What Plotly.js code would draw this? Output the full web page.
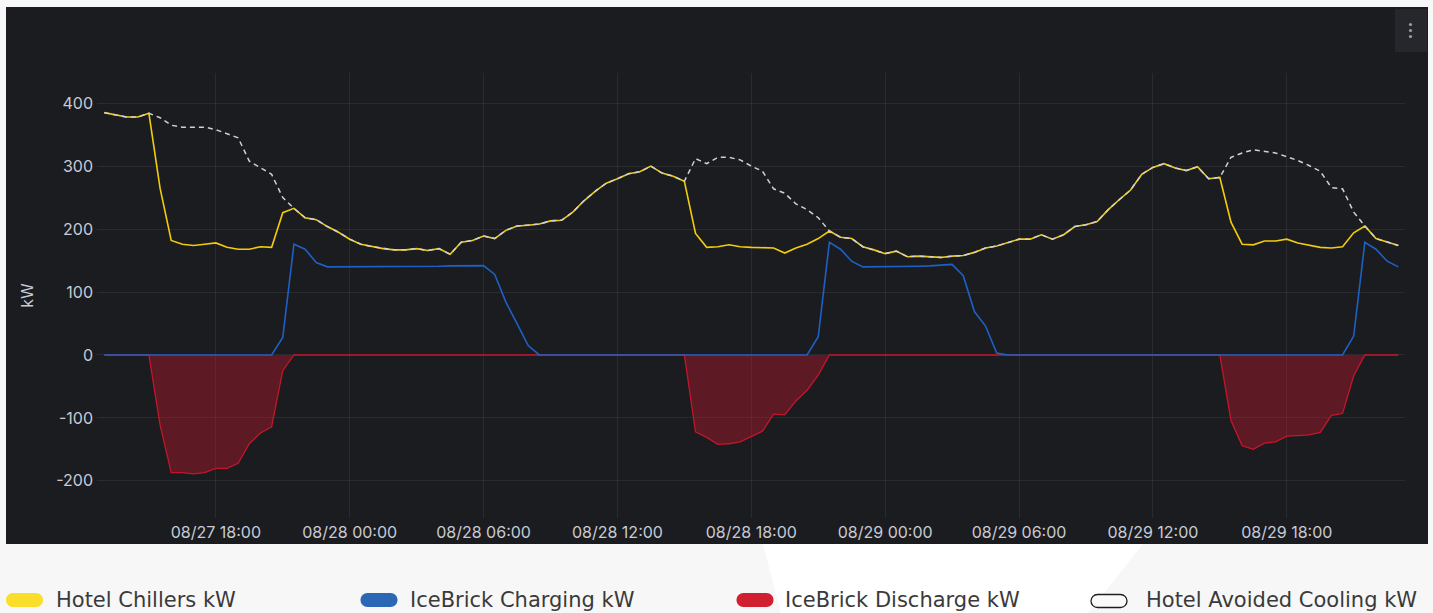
<!DOCTYPE html>
<html>
<head>
<meta charset="utf-8">
<script src="https://cdn.plot.ly/plotly-3.0.1.min.js"></script>
<style>
  html, body { margin: 0; padding: 0; background: #f7f7f7; }
  #chart { width: 1433px; height: 613px; }
</style>
</head>
<body>
<div id="chart"></div>
<script>
// ---- Data (30-minute samples, 27 Aug 13:00 -> 29 Aug 23:00) ----
const TIMES = [
  '2024-08-27 13:00','2024-08-27 13:30','2024-08-27 14:00','2024-08-27 14:30','2024-08-27 15:00','2024-08-27 15:30',
  '2024-08-27 16:00','2024-08-27 16:30','2024-08-27 17:00','2024-08-27 17:30','2024-08-27 18:00','2024-08-27 18:30',
  '2024-08-27 19:00','2024-08-27 19:30','2024-08-27 20:00','2024-08-27 20:30','2024-08-27 21:00','2024-08-27 21:30',
  '2024-08-27 22:00','2024-08-27 22:30','2024-08-27 23:00','2024-08-27 23:30',
  '2024-08-28 00:00','2024-08-28 00:30','2024-08-28 01:00','2024-08-28 01:30','2024-08-28 02:00','2024-08-28 02:30',
  '2024-08-28 03:00','2024-08-28 03:30','2024-08-28 04:00','2024-08-28 04:30','2024-08-28 05:00','2024-08-28 05:30',
  '2024-08-28 06:00','2024-08-28 06:30','2024-08-28 07:00','2024-08-28 07:30','2024-08-28 08:00','2024-08-28 08:30',
  '2024-08-28 09:00','2024-08-28 09:30','2024-08-28 10:00','2024-08-28 10:30','2024-08-28 11:00','2024-08-28 11:30',
  '2024-08-28 12:00','2024-08-28 12:30','2024-08-28 13:00','2024-08-28 13:30','2024-08-28 14:00','2024-08-28 14:30',
  '2024-08-28 15:00','2024-08-28 15:30','2024-08-28 16:00','2024-08-28 16:30','2024-08-28 17:00','2024-08-28 17:30',
  '2024-08-28 18:00','2024-08-28 18:30','2024-08-28 19:00','2024-08-28 19:30','2024-08-28 20:00','2024-08-28 20:30',
  '2024-08-28 21:00','2024-08-28 21:30','2024-08-28 22:00','2024-08-28 22:30','2024-08-28 23:00','2024-08-28 23:30',
  '2024-08-29 00:00','2024-08-29 00:30','2024-08-29 01:00','2024-08-29 01:30','2024-08-29 02:00','2024-08-29 02:30',
  '2024-08-29 03:00','2024-08-29 03:30','2024-08-29 04:00','2024-08-29 04:30','2024-08-29 05:00','2024-08-29 05:30',
  '2024-08-29 06:00','2024-08-29 06:30','2024-08-29 07:00','2024-08-29 07:30','2024-08-29 08:00','2024-08-29 08:30',
  '2024-08-29 09:00','2024-08-29 09:30','2024-08-29 10:00','2024-08-29 10:30','2024-08-29 11:00','2024-08-29 11:30',
  '2024-08-29 12:00','2024-08-29 12:30','2024-08-29 13:00','2024-08-29 13:30','2024-08-29 14:00','2024-08-29 14:30',
  '2024-08-29 15:00','2024-08-29 15:30','2024-08-29 16:00','2024-08-29 16:30','2024-08-29 17:00','2024-08-29 17:30',
  '2024-08-29 18:00','2024-08-29 18:30','2024-08-29 19:00','2024-08-29 19:30','2024-08-29 20:00','2024-08-29 20:30',
  '2024-08-29 21:00','2024-08-29 21:30','2024-08-29 22:00','2024-08-29 22:30','2024-08-29 23:00'
];

const HOTEL_CHILLERS = [
  385,381,378,378,384,265,182,176,174,176,178,171,168,168,172,171,226,233,218,215,204,195,
  184,176,172,169,167,167,169,166,169,160,179,182,189,185,198,205,206,208,213,214,227,245,
  260,273,280,288,291,300,289,284,276,193,171,172,175,172,171,170,170,162,170,176,185,197,
  187,185,172,167,161,165,156,157,156,155,157,158,163,170,173,178,184,184,191,184,191,204,
  207,212,231,247,262,287,298,304,297,293,299,280,282,211,176,175,181,181,184,178,174,171,
  170,172,194,205,185,179,174
];

const ICEBRICK_CHARGING = [
  0,0,0,0,0,0,0,0,0,0,0,0,0,0,0,0,28,176,168,147,140,140,
  140,140,140,140,140,141,141,141,141,141.5,142,142,142,128,84,50,15,0,0,0,0,0,
  0,0,0,0,0,0,0,0,0,0,0,0,0,0,0,0,0,0,0,0,29,179,
  168,149,140,140,140,141,141,141,141.5,142.5,144,126,69,46,3,0,0,0,0,0,0,0,
  0,0,0,0,0,0,0,0,0,0,0,0,0,0,0,0,0,0,0,0,0,0,
  0,0,30,179,168,149,140
];

const ICEBRICK_DISCHARGE = [
  0,0,0,0,0,-111,-187,-187,-189,-187,-180,-180,-172,-141,-124,-114,-25,0,0,0,0,0,
  0,0,0,0,0,0,0,0,0,0,0,0,0,0,0,0,0,0,0,0,0,0,
  0,0,0,0,0,0,0,0,0,-122,-131,-142,-141,-138,-129,-121,-94,-95,-73,-56,-32,0,
  0,0,0,0,0,0,0,0,0,0,0,0,0,0,0,0,0,0,0,0,0,0,
  0,0,0,0,0,0,0,0,0,0,0,0,0,-104,-144,-150,-140,-138,-129,-128,-127,-123,
  -96,-93,-33,0,0,0,0
];

const HOTEL_AVOIDED = [
  385,381,378,378,384,377,365,362,362,362,358,352,345,308,297,287,250,233,218,215,204,195,
  184,176,172,169,167,167,169,166,169,160,179,182,189,185,198,205,206,208,213,214,227,245,
  260,273,280,288,291,300,289,284,276,312,304,314,314,310,300,292,264,257,240,231,218,197,
  187,185,172,167,161,165,156,157,156,155,157,158,163,170,173,178,184,184,191,184,191,204,
  207,212,231,247,262,287,298,304,297,293,299,280,282,314,321,326,323,321,315,309,301,292,
  266,264,227,205,185,179,174
];

const SERIES_NAMES = ['Hotel Chillers kW', 'IceBrick Charging kW', 'IceBrick Discharge kW', 'Hotel Avoided Cooling kW'];
const Y_TICKS = [-200, -100, 0, 100, 200, 300, 400];
const Y_TICK_LABELS = ['-200', '-100', '0', '100', '200', '300', '400'];

// ---- Layout geometry (pixels) ----
const W = 1433, H = 613;
const PL = 97, PR = 1405, PT = 73, PB = 518;
const px2x = px => (px - PL) / (PR - PL);
const py2y = py => (PB - py) / (PB - PT);

const tickFont = { family: 'Inter, "Open Sans", sans-serif', size: 16, color: '#c9cad4' };
const legendFont = { family: '"DejaVu Sans", sans-serif', size: 21, color: '#3a3a3a' };

const traces = [
  { x: TIMES, y: ICEBRICK_DISCHARGE, name: SERIES_NAMES[2], type: 'scatter', mode: 'lines',
    line: { color: '#C4162A', width: 1.3 }, fill: 'tozeroy', fillcolor: 'rgba(196,22,42,0.40)', hoverinfo: 'skip' },
  { x: TIMES, y: HOTEL_CHILLERS, name: SERIES_NAMES[0], type: 'scatter', mode: 'lines',
    line: { color: '#F2CC0C', width: 1.6 }, hoverinfo: 'skip' },
  { x: TIMES, y: ICEBRICK_CHARGING, name: SERIES_NAMES[1], type: 'scatter', mode: 'lines',
    line: { color: '#1F60C4', width: 1.6 }, hoverinfo: 'skip' },
  { x: TIMES, y: HOTEL_AVOIDED, name: SERIES_NAMES[3], type: 'scatter', mode: 'lines',
    line: { color: '#cfd0d8', width: 1.5, dash: '5px,4px' }, hoverinfo: 'skip' }
];

function pill(cxPx, cyPx, w, h, fill, lineColor, lineW) {
  const r = h / 2, a = w / 2 - r, k = r * 0.5523;
  const p = `M ${-a},${-r} L ${a},${-r} C ${a + k},${-r} ${a + r},${-k} ${a + r},0 ` +
            `C ${a + r},${k} ${a + k},${r} ${a},${r} L ${-a},${r} ` +
            `C ${-a - k},${r} ${-a - r},${k} ${-a - r},0 C ${-a - r},${-k} ${-a - k},${-r} ${-a},${-r} Z`;
  return { type: 'path', xref: 'paper', yref: 'paper', xsizemode: 'pixel', ysizemode: 'pixel',
           xanchor: px2x(cxPx), yanchor: py2y(cyPx), path: p, fillcolor: fill,
           line: { color: lineColor || fill, width: lineW || 0 }, layer: 'above' };
}
function dot(cxPx, cyPx, r, color) {
  return { type: 'circle', xref: 'paper', yref: 'paper', xsizemode: 'pixel', ysizemode: 'pixel',
           xanchor: px2x(cxPx), yanchor: py2y(cyPx), x0: -r, x1: r, y0: -r, y1: r,
           fillcolor: color, line: { width: 0 }, layer: 'above' };
}

const shapes = [
  // decorative white wedge in background
  { type: 'path', xref: 'paper', yref: 'paper', layer: 'below',
    path: `M ${px2x(763)},${py2y(544)} L ${px2x(1143)},${py2y(544)} L ${px2x(1088)},${py2y(613)} L ${px2x(781)},${py2y(613)} Z`,
    fillcolor: '#ffffff', line: { width: 0 } },
  // dark panel
  { type: 'rect', xref: 'paper', yref: 'paper', layer: 'below',
    x0: px2x(6), x1: px2x(1428), y0: py2y(544), y1: py2y(7),
    fillcolor: '#1a1c20', line: { width: 0 } },
  // menu button
  { type: 'rect', xref: 'paper', yref: 'paper', layer: 'above',
    x0: px2x(1395), x1: px2x(1427), y0: py2y(52), y1: py2y(9),
    fillcolor: '#25272c', line: { width: 0 } },
  dot(1410.5, 24.5, 1.6, '#9c9ca6'),
  dot(1410.5, 30.5, 1.6, '#9c9ca6'),
  dot(1410.5, 36.5, 1.6, '#9c9ca6'),
  // legend markers
  pill(24.5, 600, 37, 14, '#FADE2A'),
  pill(379, 600, 37, 14, '#2C67B5'),
  pill(755, 600, 37, 14, '#D01F2E'),
  pill(1109, 601, 36, 13, '#fafafa', '#1e1e1e', 1.3)
];

const legendX = [54, 408, 783, 1144];
const annotations = SERIES_NAMES.map((name, i) => ({
  text: name, xref: 'paper', yref: 'paper', x: px2x(legendX[i]), y: py2y(600),
  xanchor: 'left', yanchor: 'middle', showarrow: false, font: legendFont
}));

const layout = {
  width: W, height: H,
  margin: { l: PL, r: W - PR, t: PT, b: H - PB, pad: 0 },
  paper_bgcolor: '#f7f7f7',
  plot_bgcolor: 'rgba(0,0,0,0)',
  showlegend: false,
  xaxis: {
    type: 'date',
    range: ['2024-08-27 12:40:24', '2024-08-29 23:18:00'],
    tick0: '2024-08-27 00:00', dtick: 6 * 3600 * 1000,
    tickformat: '%m/%d %H:%M',
    showgrid: true, gridcolor: 'rgba(204,204,220,0.09)', gridwidth: 1,
    zeroline: false, showline: false, ticks: '',
    ticklabelstandoff: 3,
    tickfont: tickFont, automargin: false
  },
  yaxis: {
    range: [-259, 448],
    tickvals: Y_TICKS, ticktext: Y_TICK_LABELS,
    showgrid: true, gridcolor: 'rgba(204,204,220,0.09)', gridwidth: 1,
    zeroline: false, showline: false, ticks: '',
    ticklabelstandoff: 3,
    tickfont: tickFont, automargin: false,
    title: { text: 'kW', font: tickFont, standoff: 18 }
  },
  shapes: shapes,
  annotations: annotations
};

Plotly.newPlot('chart', traces, layout, { staticPlot: true, displayModeBar: false });
</script>
</body>
</html>
